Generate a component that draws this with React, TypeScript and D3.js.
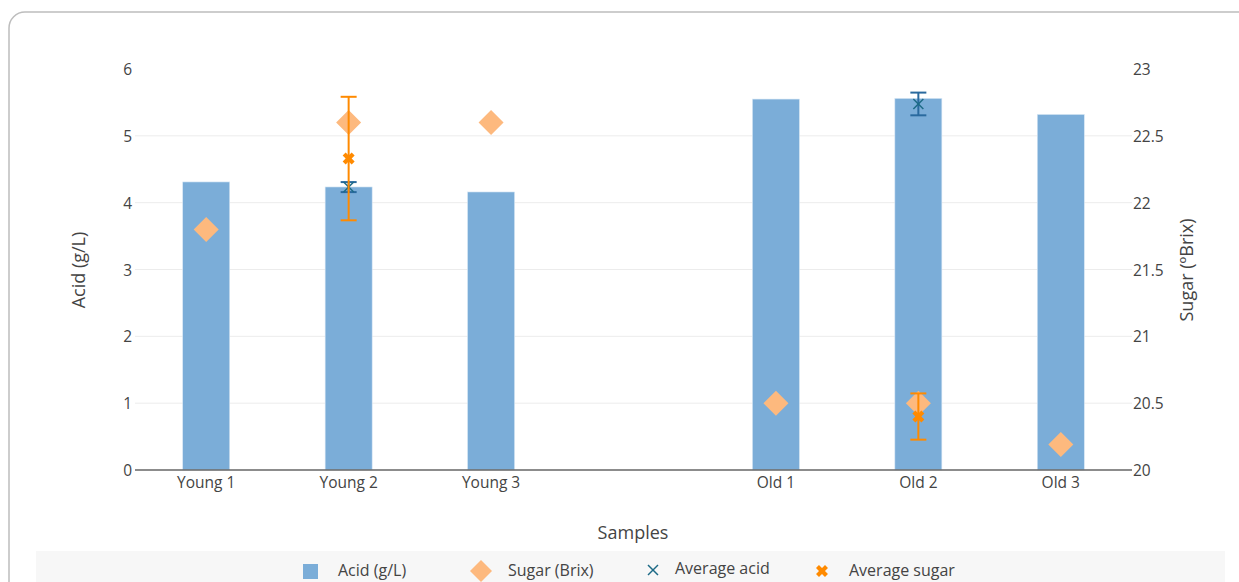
import React from "react";
import * as d3 from "d3";

// Samples along the x axis ("" is an empty spacer slot between the groups)
const samples = ["Young 1", "Young 2", "Young 3", "", "Old 1", "Old 2", "Old 3"];
// Acid per sample (g/L)
const acid: (number | null)[] = [4.31, 4.235, 4.16, null, 5.55, 5.56, 5.32];
// Sugar per sample (ºBrix)
const sugar: (number | null)[] = [21.8, 22.6, 22.6, null, 20.5, 20.5, 20.19];
// Group averages with standard deviation
const avgAcidSample = ["Young 2", "Old 2"];
const avgAcid = [4.233, 5.477];
const avgAcidErr = [0.075, 0.17];
const avgSugarSample = ["Young 2", "Old 2"];
const avgSugar = [22.33, 20.4];
const avgSugarErr = [0.462, 0.173];
// Axis ticks
const acidTicks = [0, 1, 2, 3, 4, 5, 6];
const sugarTicks = [20, 20.5, 21, 21.5, 22, 22.5, 23];

const W = 1239;
const H = 582;
const FONT = "'Open Sans', sans-serif";
const TEXT = "#444";
const BAR = "#7badd8";
const DIAMOND = "#fdb97e";
const ACID_DARK = "#2a6a9e";
const ACID_MARK = "#1d6a86";
const SUGAR_DARK = "#ff8a00";

const plot = { left: 135, right: 1132, top: 69, bottom: 470 };

const x = d3
  .scaleBand<string>()
  .domain(samples)
  .range([plot.left, plot.right])
  .paddingInner(0.67)
  .paddingOuter(0.335);
const yAcid = d3.scaleLinear().domain([0, 6]).range([plot.bottom, plot.top]);
const ySugar = d3.scaleLinear().domain([20, 23]).range([plot.bottom, plot.top]);

const cx = (s: string) => (x(s) as number) + x.bandwidth() / 2;

const diamond = (r: number) => `M0,${-r}L${r},0L0,${r}L${-r},0Z`;
const boldX = d3.symbol().type(d3.symbolCross).size(90)() as string;

function ErrorBar({ xc, y0, y1, color }: { xc: number; y0: number; y1: number; color: string }) {
  const cap = 8;
  return (
    <g stroke={color} strokeWidth={2}>
      <line x1={xc} x2={xc} y1={y0} y2={y1} />
      <line x1={xc - cap} x2={xc + cap} y1={y0} y2={y0} />
      <line x1={xc - cap} x2={xc + cap} y1={y1} y2={y1} />
    </g>
  );
}

function ThinX({ xc, yc, r, color }: { xc: number; yc: number; r: number; color: string }) {
  return (
    <g stroke={color} strokeWidth={1.5}>
      <line x1={xc - r} x2={xc + r} y1={yc - r} y2={yc + r} />
      <line x1={xc - r} x2={xc + r} y1={yc + r} y2={yc - r} />
    </g>
  );
}

export default function App() {
  const legendY = 570;
  return (
    <svg
      width={W}
      height={H}
      style={{ position: "absolute", left: 0, top: 0, background: "#fff" }}
      fontFamily={FONT}
    >
      {/* card frame */}
      <rect x={9} y={12} width={1260} height={620} rx={16} fill="#fff" stroke="#bdbdbd" strokeWidth={1.5} />

      {/* grid lines */}
      {acidTicks
        .filter((t) => t > 0 && t < 6)
        .map((t) => (
          <line key={t} x1={plot.left} x2={plot.right} y1={yAcid(t)} y2={yAcid(t)} stroke="#ececec" strokeWidth={1} />
        ))}

      {/* acid bars */}
      {samples.map((s, i) =>
        acid[i] == null ? null : (
          <rect
            key={s}
            x={x(s)}
            y={yAcid(acid[i] as number)}
            width={x.bandwidth()}
            height={yAcid(0) - yAcid(acid[i] as number)}
            fill={BAR}
            stroke="#d6e6f4"
            strokeWidth={0.6}
          />
        )
      )}

      {/* x axis line */}
      <line x1={plot.left} x2={plot.right} y1={plot.bottom} y2={plot.bottom} stroke="#666" strokeWidth={1.3} />

      {/* sugar diamonds */}
      {samples.map((s, i) =>
        sugar[i] == null ? null : (
          <path key={s} d={diamond(12.5)} transform={`translate(${cx(s)},${ySugar(sugar[i] as number)})`} fill={DIAMOND} />
        )
      )}

      {/* average acid with error bars */}
      {avgAcidSample.map((s, i) => (
        <g key={s}>
          <ErrorBar
            xc={cx(s)}
            y0={yAcid(avgAcid[i] + avgAcidErr[i])}
            y1={yAcid(avgAcid[i] - avgAcidErr[i])}
            color={ACID_DARK}
          />
          <ThinX xc={cx(s)} yc={yAcid(avgAcid[i])} r={5} color={ACID_MARK} />
        </g>
      ))}

      {/* average sugar with error bars */}
      {avgSugarSample.map((s, i) => (
        <g key={s}>
          <ErrorBar
            xc={cx(s)}
            y0={ySugar(avgSugar[i] + avgSugarErr[i])}
            y1={ySugar(avgSugar[i] - avgSugarErr[i])}
            color={SUGAR_DARK}
          />
          <path d={boldX} transform={`translate(${cx(s)},${ySugar(avgSugar[i])}) rotate(45)`} fill={SUGAR_DARK} />
        </g>
      ))}

      {/* left axis ticks */}
      {acidTicks.map((t) => (
        <text key={t} x={plot.left - 3} y={yAcid(t)} textAnchor="end" dominantBaseline="central" fontSize={15.5} fill={TEXT}>
          {t}
        </text>
      ))}
      {/* right axis ticks */}
      {sugarTicks.map((t) => (
        <text key={t} x={plot.right + 1} y={ySugar(t)} textAnchor="start" dominantBaseline="central" fontSize={15.5} fill={TEXT}>
          {t}
        </text>
      ))}
      {/* category labels */}
      {samples
        .filter((s) => s !== "")
        .map((s) => (
          <text key={s} x={cx(s)} y={482} textAnchor="middle" dominantBaseline="central" fontSize={15.5} fill={TEXT}>
            {s}
          </text>
        ))}

      {/* axis titles */}
      <text x={633} y={532} textAnchor="middle" dominantBaseline="central" fontSize={18} fill={TEXT}>
        Samples
      </text>
      <text
        transform="translate(78,270) rotate(-90)"
        textAnchor="middle"
        dominantBaseline="central"
        fontSize={18}
        fill={TEXT}
      >
        Acid (g/L)
      </text>
      <text
        transform="translate(1186,270) rotate(-90)"
        textAnchor="middle"
        dominantBaseline="central"
        fontSize={18}
        fill={TEXT}
      >
        Sugar (ºBrix)
      </text>

      {/* legend */}
      <rect x={36} y={551} width={1189} height={40} fill="#f7f7f7" />
      <rect x={303} y={564} width={15} height={15} fill={BAR} />
      <text x={338} y={legendY} dominantBaseline="central" fontSize={16} fill={TEXT}>
        Acid (g/L)
      </text>
      <path d={diamond(11)} transform={`translate(481,${legendY + 1})`} fill={DIAMOND} />
      <text x={508} y={legendY} dominantBaseline="central" fontSize={16} fill={TEXT}>
        Sugar (Brix)
      </text>
      <ThinX xc={653} yc={legendY} r={5} color={ACID_MARK} />
      <text x={675} y={legendY - 2} dominantBaseline="central" fontSize={16} fill={TEXT}>
        Average acid
      </text>
      <path d={boldX} transform={`translate(822,${legendY + 1}) rotate(45)`} fill={SUGAR_DARK} />
      <text x={849} y={legendY} dominantBaseline="central" fontSize={16} fill={TEXT}>
        Average sugar
      </text>
    </svg>
  );
}
